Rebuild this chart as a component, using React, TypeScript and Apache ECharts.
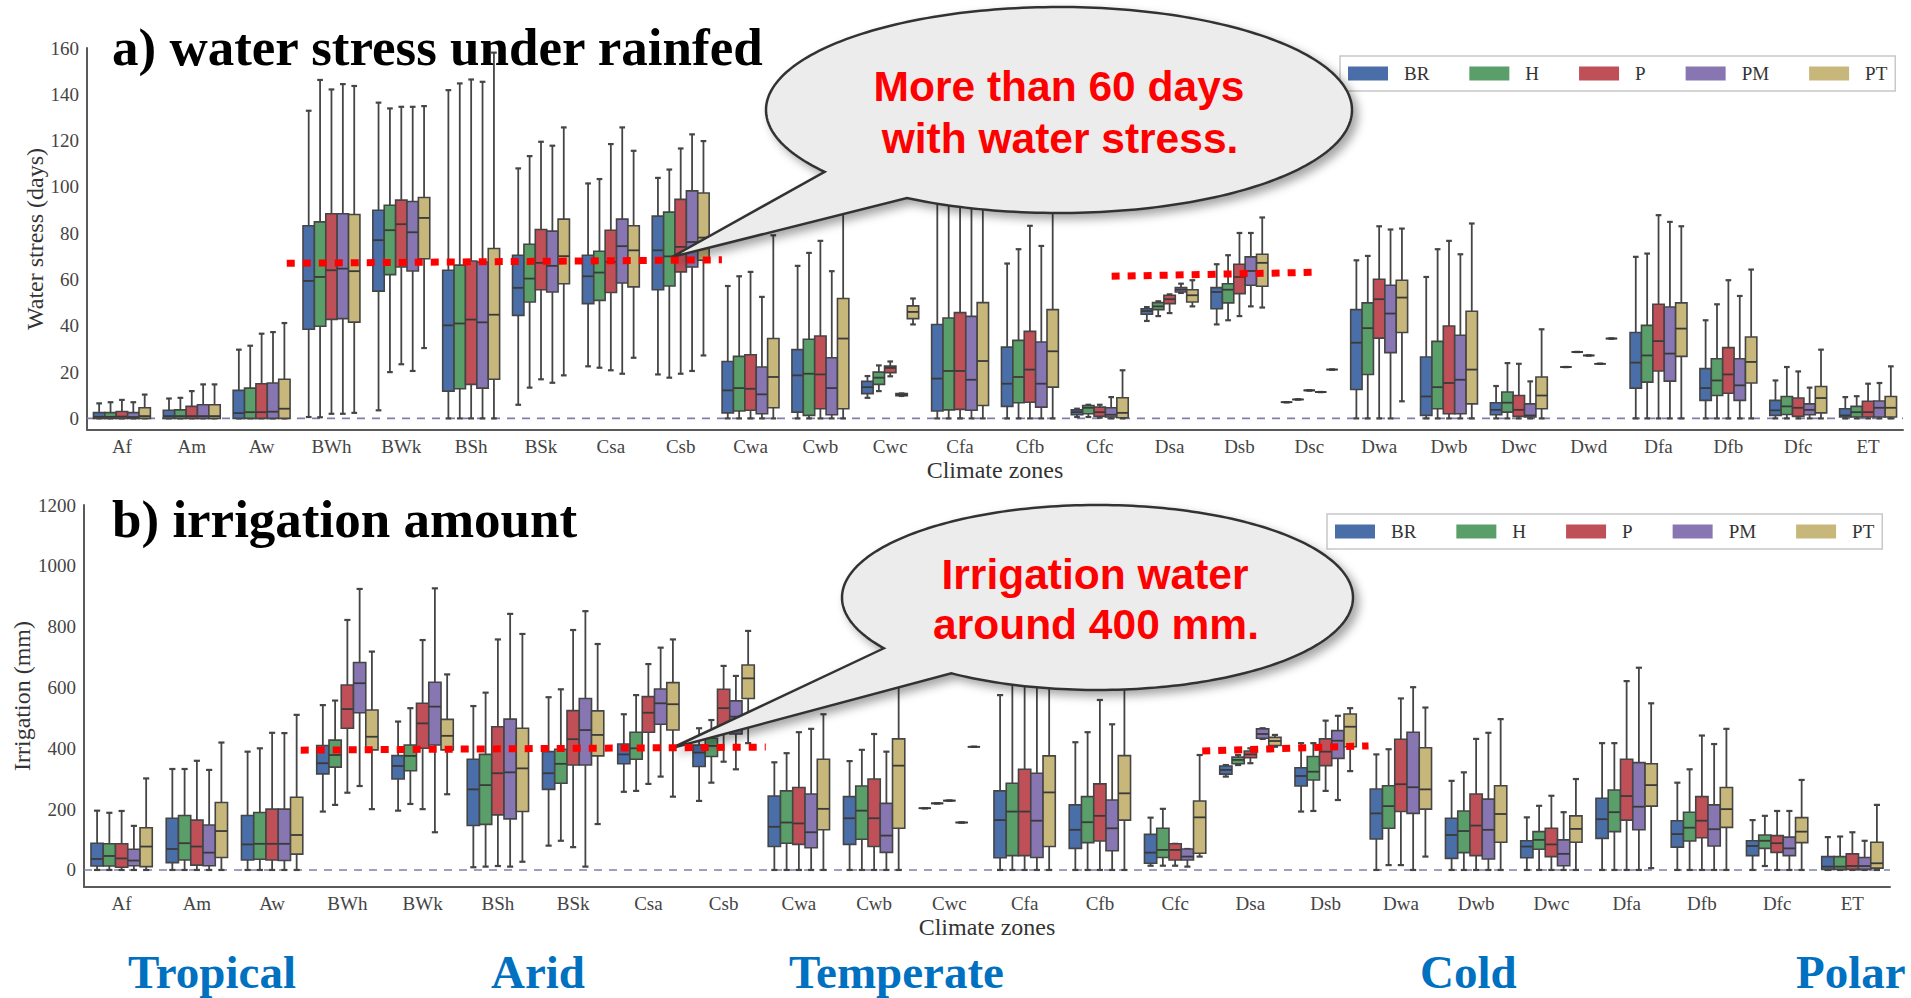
import React, { useEffect, useRef } from "react";
import * as echarts from "echarts";

const models = ["BR", "H", "P", "PM", "PT"];
const modelColors = ["#4a6ea8", "#5a9e6a", "#c05058", "#8776b2", "#c8b77a"];

const zonesA = ["Af", "Am", "Aw", "BWh", "BWk", "BSh", "BSk", "Csa", "Csb", "Cwa", "Cwb", "Cwc", "Cfa", "Cfb", "Cfc", "Dsa", "Dsb", "Dsc", "Dwa", "Dwb", "Dwc", "Dwd", "Dfa", "Dfb", "Dfc", "ET"];
const zonesB = ["Af", "Am", "Aw", "BWh", "BWk", "BSh", "BSk", "Csa", "Csb", "Cwa", "Cwb", "Cwc", "Cfa", "Cfb", "Cfc", "Dsa", "Dsb", "Dwa", "Dwb", "Dwc", "Dfa", "Dfb", "Dfc", "ET"];

const stressTicks = [0, 20, 40, 60, 80, 100, 120, 140, 160];
const irrigationTicks = [0, 200, 400, 600, 800, 1000, 1200];

// each row: [lower whisker, Q1, median, Q3, upper whisker]
const stressBR = [
  [0, 0, 0.7, 2.5, 6.5], [0, 0, 1, 3.5, 8.6], [0, 0, 2.3, 12.1, 29.7], [0.6, 38.5, 59.4, 83.2, 132.9], [3.5, 55, 77, 89.9, 136.4],
  [0, 11.8, 40.2, 64, 141.8], [5.9, 44.5, 56.4, 70.5, 108], [22.5, 49.6, 61.4, 70.5, 101.5], [19, 55.6, 72.6, 87.4, 103.9],
  [0, 2.4, 12.1, 24.6, 57.2], [0, 2.7, 18.6, 29.7, 65.9], [8.9, 10.7, 13.5, 16, 18.3], [0, 3.2, 17.2, 40.6, 100],
  [0, 5.2, 15, 30.8, 66.9], [0.6, 1.6, 2.7, 3.7, 4.2], [42.1, 45, 46.4, 47.4, 48.1], [40.6, 47.4, 54.6, 56.5, 66.6],
  [7, 7, 7, 7, 7], [0, 12.5, 32.7, 47, 68.3], [0, 1.3, 9.5, 26.5, 61.1], [0, 1.6, 3.7, 6.8, 14], [22.2, 22.2, 22.2, 22.2, 22.2],
  [0, 13.1, 24.1, 37.1, 69.8], [0, 7.8, 13.1, 21.5, 42.4], [0, 1.3, 3.5, 7.8, 16.4], [0, 0.6, 1.3, 4.2, 9.2],
];
const stressH = [
  [0, 0, 0.7, 2.5, 7], [0, 0, 1, 3.7, 8.9], [0, 0, 2.7, 13.1, 31.4], [0.5, 39.8, 61.1, 84.9, 146.2], [20, 62.1, 81.3, 92.1, 133.9],
  [0, 12.8, 41, 66.2, 144.7], [13.3, 50.3, 60.4, 75.2, 113.3], [21.9, 51, 63, 72.2, 103.4], [17.6, 57.2, 70, 89.1, 107.5],
  [0, 3.2, 13.1, 26.8, 61.4], [0, 1.3, 19.3, 34.2, 71.5], [11.8, 14.7, 17.6, 20, 22.9], [0, 3.7, 20.5, 43.4, 105],
  [0, 6.8, 17.9, 33.7, 73.1], [0.6, 2, 4.6, 5.6, 5.9], [44.2, 47, 48.4, 50, 50.6], [42.4, 49.9, 55.6, 58.2, 70.5],
  [8.2, 8.2, 8.2, 8.2, 8.2], [0, 19, 39, 49.9, 70.2], [0, 4.2, 13.5, 33.3, 73.1], [0, 2.7, 6.8, 11.4, 23.9], [28.7, 28.7, 28.7, 28.7, 28.7],
  [0, 15.7, 27.2, 40.2, 71.2], [0, 9.9, 16.4, 25.8, 49.3], [0, 1.7, 5.2, 9.5, 22.2], [0, 0.6, 2.7, 5.2, 9.6],
];
const stressP = [
  [0, 0, 0.8, 3, 8], [0, 0, 1, 5.2, 11.8], [0, 0, 2.7, 15, 36.6], [2, 42.8, 64, 88.4, 142.1], [23.4, 65.4, 83.9, 94.3, 134.6],
  [0, 14.7, 42.7, 68, 146.4], [16.9, 55.6, 67.2, 81.6, 119.5], [20.8, 54.4, 67.6, 81.3, 118.5], [19.3, 63.3, 74.1, 94.6, 116.6],
  [0, 3.5, 12.8, 27.5, 63.3], [0, 4.2, 19, 35.6, 76.7], [18.2, 19.8, 21.8, 22.6, 24.6], [0, 3.9, 20.5, 45.7, 110],
  [0, 7, 21.1, 37.6, 83.2], [0.3, 0.9, 2.7, 4.9, 5.9], [45.5, 49.6, 51.5, 53.2, 53.6], [44.2, 53.9, 61.1, 66.6, 80.1],
  [12.1, 12.1, 12.1, 12.1, 12.1], [0, 34.7, 51.5, 60.1, 83], [0, 2, 15.3, 39.9, 76.7], [0, 0.9, 3.7, 9.9, 23.6], [27.2, 27.2, 27.2, 27.2, 27.2],
  [0, 20.5, 33.4, 49.3, 87.8], [0, 10.9, 19, 30.6, 59.7], [0, 0.9, 4.6, 8.8, 20.3], [0, 0.6, 2.7, 7.4, 15],
];
const stressPM = [
  [0, 0, 0.6, 2.5, 7], [0, 0, 1, 5.9, 14.7], [0, 0, 2.9, 15.3, 37.3], [2, 43.1, 64.7, 88.4, 144.4], [20.5, 63.7, 80.4, 93.7, 134.6],
  [0, 13.1, 41.5, 67.5, 145.4], [15.4, 54.6, 65.9, 80.9, 117.8], [19.3, 58.5, 74.4, 86.1, 125.7], [20.5, 65.4, 76.2, 98.3, 122.7],
  [0, 2, 10.4, 22.2, 52.5], [0, 1.6, 13.1, 26.2, 63.6], [9.7, 9.8, 10.2, 10.7, 10.8], [0, 3.5, 16.7, 44.1, 108],
  [0, 4.9, 15, 33, 74.5], [0, 0.6, 1.6, 4.6, 9.2], [54.2, 54.6, 55.6, 56.5, 58.2], [48.4, 57.5, 63.7, 69.8, 80.1],
  [11.4, 11.4, 11.4, 11.4, 11.4], [0, 28.4, 45.3, 57.5, 81.6], [0, 2, 16.7, 35.9, 70.9], [0, 0.6, 1.3, 6.3, 16], [23.6, 23.6, 23.6, 23.6, 23.6],
  [0, 16.1, 28, 48.1, 84.9], [0, 7.8, 14.3, 25.8, 52.9], [0, 1.6, 3.7, 6.3, 13.3], [0, 0.6, 4.6, 7.5, 15.3],
];
const stressPT = [
  [0, 0, 1, 4.6, 10.3], [0, 0, 1, 5.9, 14.7], [0, 0, 4.2, 16.9, 41.2], [2.4, 41.6, 63.6, 88.1, 143.6], [30.4, 69, 86.6, 95.4, 134.9],
  [0, 16.9, 44.8, 73.4, 158], [18.6, 58.2, 70.1, 86.1, 125.7], [26.2, 56.8, 72.6, 83.2, 115.6], [27.2, 68.3, 78.1, 97.4, 119.8],
  [0, 4.6, 17.9, 34.5, 79.1], [0, 4.2, 34.5, 51.8, 90], [40.6, 43.1, 46, 48.6, 51.8], [0, 5.6, 24.8, 50, 112],
  [0, 13.5, 29, 47, 90], [0, 0.3, 2.4, 8.9, 20.8], [48.4, 50.3, 53.2, 55.6, 59.7], [47.9, 57.1, 67.2, 70.9, 86.8],
  [21.1, 21.1, 21.1, 21.1, 21.1], [7.4, 37.1, 52.2, 59.7, 82], [0, 6.3, 21.1, 46.3, 84.2], [0, 4.2, 9.9, 17.9, 38.5], [34.5, 34.5, 34.5, 34.5, 34.5],
  [0, 26.8, 38.8, 49.9, 83], [0, 15.3, 24.4, 35.2, 64.3], [0, 2.4, 8.8, 13.8, 29.7], [0, 0.6, 4.6, 9.5, 22.5],
];

const irrBR = [
  [0, 13, 36, 88, 195], [0, 24, 69, 170, 332], [0, 33, 84, 179, 389], [192, 316, 351, 409, 542], [195, 299, 342, 376, 488],
  [9, 146, 265, 364, 539], [80, 265, 318, 389, 568], [257, 349, 380, 414, 512], [227, 340, 386, 411, 466],
  [0, 77, 142, 243, 354], [0, 84, 170, 241, 358], [203, 203, 203, 203, 203], [0, 40, 164, 260, 575], [0, 71, 132, 214, 420],
  [14, 22, 57, 117, 172], [307, 315, 329, 342, 345], [192, 276, 309, 336, 417], [0, 102, 186, 266, 380], [0, 38, 115, 170, 293],
  [0, 40, 77, 96, 173], [0, 104, 167, 236, 417], [0, 75, 118, 162, 287], [0, 47, 79, 96, 164], [0, 2, 11, 44, 108],
];
const irrH = [
  [0, 13, 46, 86, 188], [0, 33, 88, 179, 332], [0, 35, 86, 189, 400], [214, 338, 378, 427, 557], [217, 326, 375, 411, 532],
  [11, 150, 279, 380, 583], [96, 285, 349, 397, 594], [260, 364, 400, 453, 575], [287, 373, 408, 433, 493],
  [0, 88, 156, 260, 384], [0, 101, 195, 276, 395], [219, 219, 219, 219, 219], [0, 47, 192, 285, 640], [0, 90, 157, 241, 453],
  [14, 41, 66, 137, 201], [345, 349, 362, 371, 378], [194, 296, 323, 373, 417], [16, 137, 210, 277, 397], [0, 57, 128, 194, 321],
  [0, 68, 99, 126, 211], [0, 126, 190, 263, 417], [0, 95, 139, 190, 331], [13, 71, 96, 115, 178], [0, 2, 11, 44, 110],
];
const irrP = [
  [0, 9, 38, 86, 194], [0, 16, 77, 164, 359], [0, 33, 86, 200, 451], [254, 466, 529, 608, 822], [200, 400, 482, 548, 756],
  [13, 181, 318, 471, 758], [75, 345, 430, 524, 789], [283, 453, 517, 570, 677], [356, 471, 532, 594, 671],
  [0, 84, 153, 271, 453], [0, 77, 170, 299, 447], [228, 228, 228, 228, 228], [0, 47, 192, 331, 690], [0, 95, 178, 283, 559],
  [14, 33, 66, 86, 86], [351, 369, 380, 391, 400], [260, 343, 389, 431, 491], [16, 192, 282, 430, 564], [0, 47, 146, 250, 431],
  [0, 44, 84, 137, 244], [0, 164, 243, 364, 621], [0, 106, 162, 241, 442], [0, 58, 88, 113, 194], [0, 2, 13, 53, 124],
];
const irrPM = [
  [0, 14, 31, 68, 145], [0, 14, 57, 148, 329], [0, 31, 86, 200, 450], [276, 517, 614, 682, 924], [124, 411, 537, 617, 926],
  [11, 168, 321, 496, 842], [11, 345, 460, 564, 851], [307, 479, 548, 595, 731], [331, 447, 504, 556, 638],
  [0, 73, 124, 250, 464], [0, 58, 113, 219, 389], [156, 156, 156, 156, 156], [0, 41, 162, 318, 660], [0, 63, 137, 230, 479],
  [11, 33, 44, 69, 69], [431, 433, 447, 464, 466], [230, 367, 425, 458, 507], [0, 186, 272, 453, 601], [0, 36, 132, 233, 451],
  [0, 14, 53, 99, 190], [0, 132, 208, 353, 665], [0, 79, 134, 214, 414], [0, 47, 71, 108, 194], [0, 2, 13, 41, 96],
];
const irrPT = [
  [0, 11, 77, 139, 301], [0, 41, 128, 222, 419], [0, 52, 115, 239, 510], [200, 395, 438, 526, 718], [249, 395, 441, 495, 643],
  [27, 192, 334, 466, 776], [151, 375, 444, 523, 743], [241, 460, 545, 616, 758], [417, 564, 630, 674, 786],
  [0, 132, 201, 364, 512], [0, 137, 343, 431, 610], [405, 405, 405, 405, 405], [0, 77, 255, 375, 690], [0, 164, 252, 376, 610],
  [44, 55, 173, 227, 378], [405, 409, 424, 436, 444], [325, 405, 471, 513, 532], [44, 200, 265, 402, 534], [0, 91, 184, 277, 496],
  [0, 91, 135, 178, 299], [6, 210, 279, 349, 548], [0, 140, 200, 271, 464], [0, 90, 126, 172, 296], [0, 6, 22, 91, 214],
];

// red dotted reference lines: [category position, value]
const stressRefLeft = [[2.36, 67], [8.59, 68.5]];
const stressRefRight = [[14.17, 61.4], [17.04, 63.1]];
const irrRefLeft = [[2.38, 394], [8.56, 404]];
const irrRefRight = [[14.36, 391], [16.57, 408]];

const groupNames = ["Tropical", "Arid", "Temperate", "Cold", "Polar"];

const SERIF = "'Liberation Serif', 'Times New Roman', serif";
const SANS = "'Liberation Sans', Arial, sans-serif";

function makeRender(k: number) {
  return (_params: any, api: any) => {
    const ci = api.value(0);
    const v = [api.value(1), api.value(2), api.value(3), api.value(4), api.value(5)];
    const band = api.size([1, 0])[0];
    const w = band * 0.163;
    const cx = api.coord([ci, 0])[0] + (k - 2) * w;
    const ys = v.map((val: number) => api.coord([ci, val])[1]);
    const cap = w * 0.5;
    const ink = "#454545";
    const color = api.visual("color");
    const ls = { stroke: ink, lineWidth: 1.8 };
    return {
      type: "group",
      children: [
        { type: "line", shape: { x1: cx, y1: ys[0], x2: cx, y2: ys[1] }, style: ls },
        { type: "line", shape: { x1: cx, y1: ys[3], x2: cx, y2: ys[4] }, style: ls },
        { type: "line", shape: { x1: cx - cap / 2, y1: ys[0], x2: cx + cap / 2, y2: ys[0] }, style: { stroke: ink, lineWidth: 2.2 } },
        { type: "line", shape: { x1: cx - cap / 2, y1: ys[4], x2: cx + cap / 2, y2: ys[4] }, style: { stroke: ink, lineWidth: 2.2 } },
        { type: "rect", shape: { x: cx - w / 2, y: ys[3], width: w, height: ys[1] - ys[3] }, style: { fill: color, stroke: ink, lineWidth: 1.6 } },
        { type: "line", shape: { x1: cx - w / 2, y1: ys[2], x2: cx + w / 2, y2: ys[2] }, style: { stroke: "#3a3a3a", lineWidth: 1.8 } },
      ],
    };
  };
}

function bubblePoints(cx: number, cy: number, rx: number, ry: number, p1: number[], p2: number[], tip: number[]) {
  const t1 = Math.atan2((p1[1] - cy) / ry, (p1[0] - cx) / rx);
  let t2 = Math.atan2((p2[1] - cy) / ry, (p2[0] - cx) / rx);
  while (t2 <= t1) t2 += Math.PI * 2;
  const pts: number[][] = [];
  const n = 240;
  for (let i = 0; i <= n; i++) {
    const t = t1 + ((t2 - t1) * i) / n;
    pts.push([cx + rx * Math.cos(t), cy + ry * Math.sin(t)]);
  }
  pts.push(tip);
  return pts;
}

export default function App() {
  const ref = useRef<HTMLDivElement>(null);
  useEffect(() => {
    document.body.style.margin = "0";
    const chart = echarts.init(ref.current!, null, { renderer: "svg" });
    const stressSets = [stressBR, stressH, stressP, stressPM, stressPT];
    const irrSets = [irrBR, irrH, irrP, irrPM, irrPT];

    const boxSeries: any[] = [];
    models.forEach((m, k) => {
      boxSeries.push({
        type: "custom",
        name: m,
        xAxisIndex: 0,
        yAxisIndex: 0,
        data: stressSets[k].map((r, i) => [i, ...r]),
        encode: { x: 0, y: [1, 2, 3, 4, 5] },
        itemStyle: { color: modelColors[k] },
        renderItem: makeRender(k),
        z: 3,
        silent: true,
      });
      boxSeries.push({
        type: "custom",
        name: m,
        xAxisIndex: 1,
        yAxisIndex: 1,
        data: irrSets[k].map((r, i) => [i, ...r]),
        encode: { x: 0, y: [1, 2, 3, 4, 5] },
        itemStyle: { color: modelColors[k] },
        renderItem: makeRender(k),
        z: 3,
        silent: true,
      });
    });

    const refStyle = { color: "#ff0000", width: 7, type: [8, 8] as any, cap: "butt" as any };
    const zeroStyle = { color: "#7f7fa8", width: 1.6, type: [8, 7] as any };
    const lineSeries: any[] = [
      { type: "line", xAxisIndex: 2, yAxisIndex: 0, data: [[-0.5, 0], [zonesA.length - 0.5, 0]], symbol: "none", lineStyle: zeroStyle, z: 1, silent: true },
      { type: "line", xAxisIndex: 3, yAxisIndex: 1, data: [[-0.5, 0], [zonesB.length - 0.5, 0]], symbol: "none", lineStyle: zeroStyle, z: 1, silent: true },
      { type: "line", xAxisIndex: 2, yAxisIndex: 0, data: stressRefLeft, symbol: "none", lineStyle: refStyle, z: 20, silent: true },
      { type: "line", xAxisIndex: 2, yAxisIndex: 0, data: stressRefRight, symbol: "none", lineStyle: refStyle, z: 20, silent: true },
      { type: "line", xAxisIndex: 3, yAxisIndex: 1, data: irrRefLeft, symbol: "none", lineStyle: refStyle, z: 20, silent: true },
      { type: "line", xAxisIndex: 3, yAxisIndex: 1, data: irrRefRight, symbol: "none", lineStyle: refStyle, z: 20, silent: true },
    ];

    const catAxis = (gridIndex: number, data: string[]) => ({
      type: "category",
      gridIndex,
      data,
      name: "Climate zones",
      nameLocation: "middle",
      nameGap: 28,
      nameMoveOverlap: false,
      nameTextStyle: { fontFamily: SERIF, fontSize: 24, color: "#333" },
      axisLine: { show: true, onZero: false, lineStyle: { color: "#5a5a5a", width: 2 } },
      axisTick: { show: false },
      axisLabel: { fontFamily: SERIF, fontSize: 19, color: "#444", margin: 7 },
      splitLine: { show: false },
    });
    const valAxis = (gridIndex: number, min: number, max: number, ticks: number[], name: string, nameGap: number) => ({
      type: "value",
      gridIndex,
      min,
      max,
      name,
      nameLocation: "middle",
      nameGap,
      nameMoveOverlap: false,
      nameTextStyle: { fontFamily: SERIF, fontSize: 24, color: "#333" },
      axisLine: { show: true, onZero: false, lineStyle: { color: "#5a5a5a", width: 2 } },
      axisTick: { show: false },
      axisLabel: { fontFamily: SERIF, fontSize: 19, color: "#444", margin: 8, customValues: ticks, formatter: (v: number) => String(v) },
      splitLine: { show: false },
    });

    const legendBase = {
      orient: "horizontal",
      data: models,
      icon: "rect",
      itemWidth: 40,
      itemHeight: 14,
      itemGap: 40,
      padding: [8, 8, 8, 8],
      borderColor: "#c8c8c8",
      borderWidth: 1.5,
      backgroundColor: "#ffffff",
      itemStyle: { borderWidth: 0 },
      textStyle: { fontFamily: SERIF, fontSize: 19, color: "#333", padding: [0, 0, 0, 11], lineHeight: 19 },
      selectedMode: false,
    };

    const bubbleStyle = {
      fill: "#ececec",
      stroke: "#333333",
      lineWidth: 2.5,
      shadowBlur: 10,
      shadowColor: "rgba(0,0,0,0.35)",
      shadowOffsetX: 5,
      shadowOffsetY: 5,
    };
    const bubbleA = bubblePoints(1059, 110, 293, 103, [824, 172], [907, 198], [672, 257]);
    const bubbleB = bubblePoints(1097.5, 597.5, 255.5, 92.5, [885, 648], [952, 673], [672, 748]);

    const txt = (text: string, x: number, y: number, size: number, color: string, family: string, align = "left") => ({
      type: "text",
      x,
      y,
      z: 30,
      silent: true,
      style: { text, fill: color, fontSize: size, fontWeight: "bold", fontFamily: family, align, verticalAlign: "middle" },
    });

    const groupX = [128, 491, 789, 1420, 1796];

    chart.setOption({
      animation: false,
      backgroundColor: "#ffffff",
      grid: [
        { left: 87, top: 48, width: 1816, height: 382, containLabel: false, outerBoundsMode: "none" },
        { left: 84, top: 505, width: 1806, height: 382, containLabel: false, outerBoundsMode: "none" },
      ],
      xAxis: [
        catAxis(0, zonesA),
        catAxis(1, zonesB),
        { type: "value", gridIndex: 0, min: -0.5, max: zonesA.length - 0.5, show: false },
        { type: "value", gridIndex: 1, min: -0.5, max: zonesB.length - 0.5, show: false },
      ],
      yAxis: [
        valAxis(0, -5, 160, stressTicks, "Water stress (days)", 40),
        valAxis(1, -56, 1200, irrigationTicks, "Irrigation (mm)", 50),
      ],
      legend: [
        { ...legendBase, left: 1340, top: 56 },
        { ...legendBase, left: 1327, top: 514 },
      ],
      series: [...lineSeries, ...boxSeries],
      graphic: {
        elements: [
          { type: "polygon", z: 10, silent: true, shape: { points: bubbleA }, style: bubbleStyle },
          { type: "polygon", z: 10, silent: true, shape: { points: bubbleB }, style: bubbleStyle },
          txt("More than 60 days", 1059, 86, 42.5, "#ff0000", SANS, "center"),
          txt("with water stress.", 1060, 138, 42.5, "#ff0000", SANS, "center"),
          txt("Irrigation water", 1095, 574, 42.5, "#ff0000", SANS, "center"),
          txt("around 400 mm.", 1096, 624, 42.5, "#ff0000", SANS, "center"),
          txt("a) water stress under rainfed", 112, 47, 53, "#000000", SERIF),
          txt("b) irrigation amount", 112, 519, 53, "#000000", SERIF),
          ...groupNames.map((g, i) => txt(g, groupX[i], 972, 47, "#0070c0", SERIF)),
        ],
      },
    } as any);
    return () => chart.dispose();
  }, []);
  return <div ref={ref} style={{ position: "fixed", left: 0, top: 0, width: 1911, height: 998 }} />;
}
